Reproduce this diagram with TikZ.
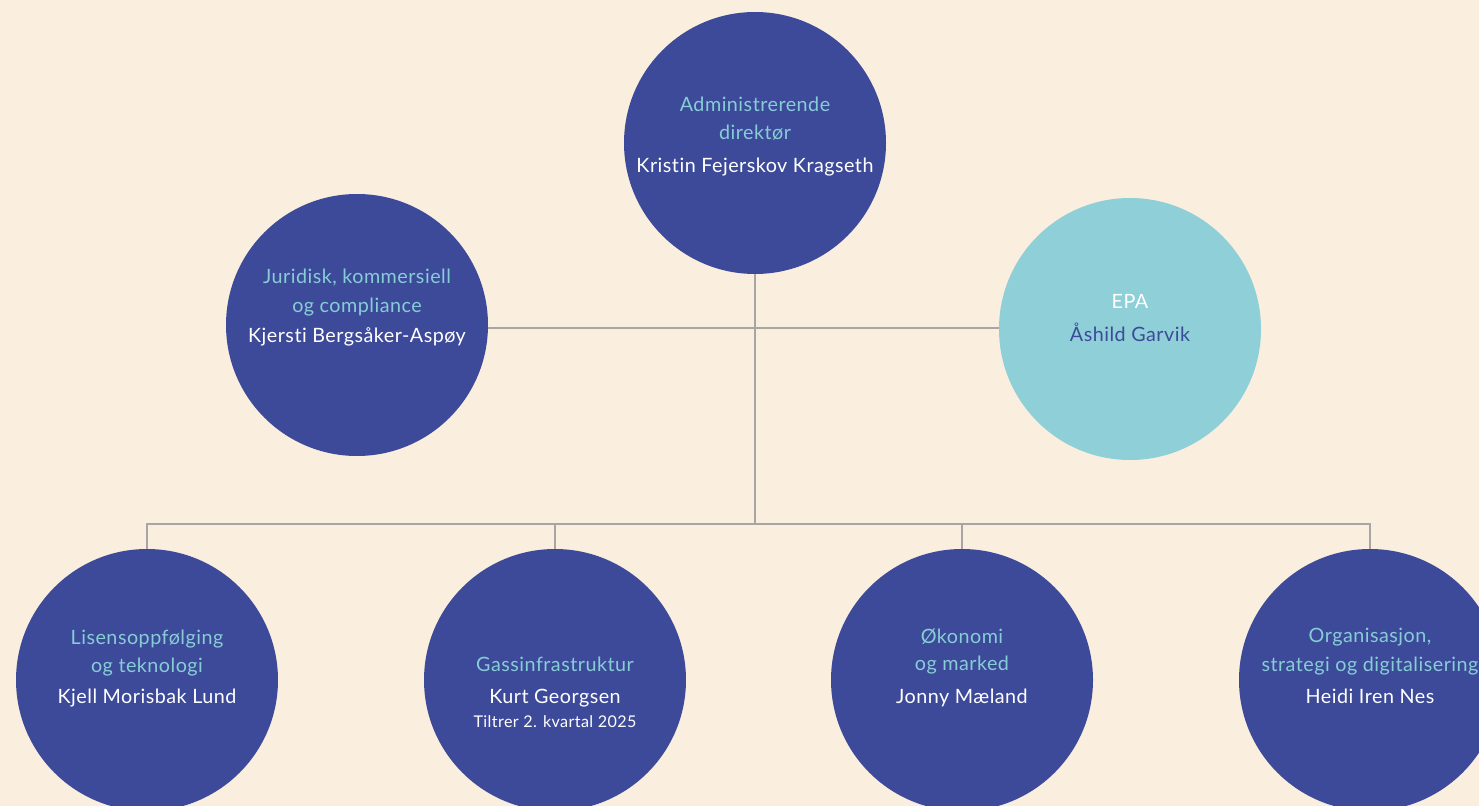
\documentclass[tikz,border=0pt]{standalone}
\usepackage{fontspec}
\setmainfont{Lato}[LetterSpace=2.5, Ligatures={NoCommon}]
\definecolor{bg}{HTML}{FAEEDF}
\definecolor{navy}{HTML}{3D4A99}
\definecolor{teal}{HTML}{8ECFD8}
\definecolor{tealtxt}{HTML}{86CDD6}
\definecolor{linegray}{HTML}{A8A6A4}
\tikzset{
  unit/.style={circle, fill=navy, minimum size=196.5pt, inner sep=0pt},
  epaunit/.style={circle, fill=teal, minimum size=196.5pt, inner sep=0pt},
  ttl/.style={anchor=base, text=tealtxt, font=\fontsize{14.8pt}{16pt}\selectfont, inner sep=0pt},
  nm/.style={anchor=base, text=white, font=\fontsize{14.8pt}{16pt}\selectfont, inner sep=0pt},
  sm/.style={anchor=base, text=white, font=\fontsize{12.1pt}{13pt}\selectfont, inner sep=0pt},
  conn/.style={draw=linegray, line width=1.1pt}
}
\begin{document}
\begin{tikzpicture}[x=0.75pt,y=-0.75pt]
\useasboundingbox (0,0) rectangle (1479,806);
\clip (0,0) rectangle (1479,806);
\fill[bg] (0,0) rectangle (1479,806);

\node[unit] (top) at (755,143) {};
\node[unit] (jur) at (357,325) {};
\node[epaunit] (epa) at (1130,329) {};
\node[unit] (b1) at (147,680) {};
\node[unit] (b2) at (555,680) {};
\node[unit] (b3) at (962,680) {};
\node[unit] (b4) at (1370,680) {};

\coordinate (hub) at (755,328);
\coordinate (bus) at (755,524);

\draw[conn] (top.south) -- (bus);
\draw[conn] (hub -| jur.east) -- (hub -| epa.west);
\draw[conn] (b1.north) |- (bus) -| (b4.north);
\draw[conn] (b2.north) -- (b2.north |- bus);
\draw[conn] (b3.north) -- (b3.north |- bus);

% top
\node[ttl] (t1) at (755,112) {Administrerende};
\node[ttl] (t2) at (755,140) {direktør};
\node[nm]  (t3) at (755,173) {Kristin Fejerskov Kragseth};
% juridisk
\node[ttl] (j1) at (357,284) {Juridisk, kommersiell};
\node[ttl] (j2) at (357,312) {og compliance};
\node[nm]  (j3) at (357,342) {Kjersti Bergsåker-Aspøy};
% EPA
\node[nm] (e1) at (1130,309) {EPA};
\node[nm, text=navy] (e2) at (1130,341) {Åshild Garvik};
% bottom
\node[ttl] (l1) at (147,644) {Lisensoppfølging};
\node[ttl] (l2) at (147,672) {og teknologi};
\node[nm]  (l3) at (147,703) {Kjell Morisbak Lund};

\node[ttl] (g1) at (555,671) {Gassinfrastruktur};
\node[nm]  (g2) at (555,703) {Kurt Georgsen};
\node[sm]  (g3) at (555,727) {Tiltrer 2. kvartal 2025};

\node[ttl] (o1) at (962,643) {Økonomi};
\node[ttl] (o2) at (962,670) {og marked};
\node[nm]  (o3) at (962,703) {Jonny Mæland};

\node[ttl] (s1) at (1370,642) {Organisasjon,};
\node[ttl] (s2) at (1370,671) {strategi og digitalisering};
\node[nm]  (s3) at (1370,703) {Heidi Iren Nes};
\end{tikzpicture}
\end{document}
